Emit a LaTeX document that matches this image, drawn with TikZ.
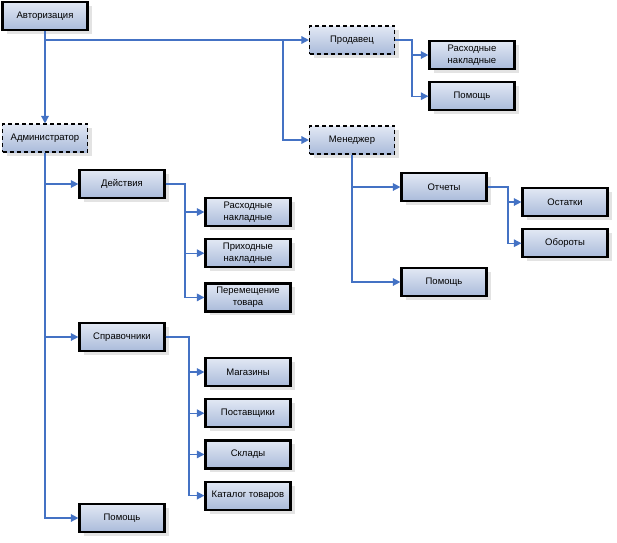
\documentclass[tikz,border=0pt]{standalone}
\usepackage{fontspec}
\setmainfont{Liberation Sans}
\usepackage{tikz}
\usetikzlibrary{positioning,calc,arrows.meta,shadows}
\definecolor{linkblue}{RGB}{68,114,196}
\definecolor{boxtop}{RGB}{226,232,244}
\definecolor{boxbot}{RGB}{170,187,218}
\tikzstyle{link} = [draw,linkblue,line width=1.4pt,-{Triangle[width=7.5pt,length=7.5pt]}]
\tikzstyle{menu} = [draw,rectangle,line width=2.2pt,minimum width=85pt,minimum height=28pt,inner sep=1pt,
  top color=boxtop,bottom color=boxbot,align=center,font=\fontsize{9.5}{11.5}\selectfont,
  drop shadow={shadow xshift=4pt,shadow yshift=-4pt,fill=black!22}]
\tikzstyle{role} = [menu,dashed,line width=1.1pt,dash pattern=on 4pt off 3pt]

\begin{document}
\begin{tikzpicture}[x=1pt,y=-1pt,node distance=11pt]
  \useasboundingbox (0,0) rectangle (617,542);
  \node[menu,line width=2.8pt] (auth) at (45,16) {Авторизация};
  \node[role] (admin) at (45,138) {Администратор};
  \node[role] (seller) at (352,40) {Продавец};
  \node[role] (manager) at (352,140) {Менеджер};
  % seller
  \node[menu] (sinvoice) at (472,55) {Расходные\\накладные};
  \node[menu] (shelp) [below=of sinvoice] {Помощь};
  % manager
  \node[menu] (reports) at (444,187) {Отчеты};
  \node[menu] (mhelp) at (444,282) {Помощь};
  \node[menu] (stock) at (565,202) {Остатки};
  \node[menu] (turnover) [below=of stock] {Обороты};
  % admin
  \node[menu] (actions) at (122,184) {Действия};
  \node[menu] (ainvoice) at (248,212) {Расходные\\накладные};
  \node[menu] (pinvoice) [below=of ainvoice] {Приходные\\накладные};
  \node[menu] (moving) [below=14pt of pinvoice] {Перемещение\\товара};
  \node[menu] (refs) at (122,337) {Справочники};
  \node[menu] (shops) at (248,372) {Магазины};
  \node[menu] (suppliers) [below=of shops] {Поставщики};
  \node[menu] (stores) [below=of suppliers] {Склады};
  \node[menu] (catalog) [below=of stores] {Каталог товаров};
  \node[menu] (ahelp) at (122,518) {Помощь};

  \coordinate (mfork) at (283,40);
  \coordinate (sfork) at (412,40);
  \coordinate (rfork) at (508,187);
  \coordinate (afork) at (185,184);
  \coordinate (cfork) at (189,337);

  \path[link] (auth.south) -- (admin.north);
  \path[link] (auth.south) |- (seller.west);
  \path[link] (mfork) |- (manager.west);
  \foreach \n in {sinvoice,shelp}
    \path[link] (seller.east) -- (sfork) |- (\n.west);
  \foreach \n in {reports,mhelp}
    \path[link] (manager.south) |- (\n.west);
  \foreach \n in {stock,turnover}
    \path[link] (reports.east) -- (rfork) |- (\n.west);
  \foreach \n in {actions,refs,ahelp}
    \path[link] (admin.south) |- (\n.west);
  \foreach \n in {ainvoice,pinvoice,moving}
    \path[link] (actions.east) -- (afork) |- (\n.west);
  \foreach \n in {shops,suppliers,stores,catalog}
    \path[link] (refs.east) -- (cfork) |- (\n.west);
\end{tikzpicture}
\end{document}
